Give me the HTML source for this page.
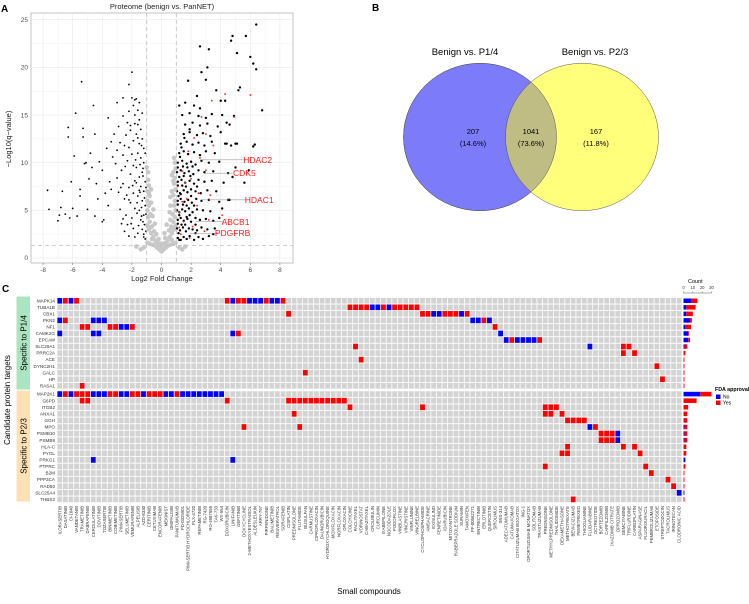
<!DOCTYPE html>
<html><head><meta charset="utf-8"><style>
html,body{margin:0;padding:0;background:#fff;}
svg{display:block;font-family:"Liberation Sans",Arial,sans-serif;}
</style></head><body>
<svg id="fig" width="749" height="604" viewBox="0 0 749 604" xmlns="http://www.w3.org/2000/svg">
<text x="1" y="12" font-size="10" font-weight="bold">A</text>
<text x="372" y="11" font-size="10" font-weight="bold">B</text>
<text x="2" y="292" font-size="10" font-weight="bold">C</text>
<g id="volcano"></g>
<g id="venn"></g>
<g id="heat"></g>
</svg>
<script>
// ---------- Panel A data ----------
const xTicks=[-8,-6,-4,-2,0,2,4,6,8];
const yTicks=[0,5,10,15,20,25];
const grayPts=[0,0.7,-0.15,0.9,0.15,0.9,-0.3,1.1,0.3,1.1,-0.45,1.3,0.45,1.3,-0.6,1.4,0.6,1.4,-0.8,1.5,0.8,1.5,-0.95,1.6,0.95,1.6,-1.2,1.1,1.2,1.1,-1.4,0.9,1.4,0.9,-1.7,1.2,1.6,1.2,-0.4,1.8,0.4,1.8,-0.55,2.2,0.55,2.2,-0.7,2.6,0.7,2.6,-0.85,3,0.85,3,-0.95,3.4,0.95,3.4,-0.65,3.3,0.65,3.3,-0.8,3.8,0.8,3.8,-0.9,4.3,0.9,4.3,-0.75,4.6,0.75,4.6,-0.95,5,0.95,5,-0.85,5.5,0.85,5.5,-0.95,6,0.9,6,-0.8,6.5,0.8,6.6,-0.95,7,0.95,7.2,-0.85,7.6,0.85,7.8,-0.9,8.2,0.9,8.4,0.8,9,0.95,9.4,0.9,10,0.7,8.7,-0.7,5.8,-0.6,4.4,0.6,4,-0.5,2.8,0.5,2.9,-0.3,1.6,0.3,1.6,0,1.2,-0.1,1.5,0.1,1.5,-0.2,2,0.25,2.1,-0.9,9,-1,9.5,0.6,5.5,0.7,7,-0.7,7.2,-0.65,2,0.7,1.9,0.2,2.6,-0.35,2.5,0.35,3.5,-0.45,3.6,0.6,6.4,0.85,10.5,-0.55,5.1,0.55,4.8,-0.75,3.2,0.75,3.1,-0.85,6.8,0.8,8.1];
const downPts=[-1.1,2,-1.2,2.5,-1.3,3,-1.15,3.5,-1.4,4,-1.2,4.5,-1.5,5,-1.1,5.5,-1.3,6,-1.6,6.5,-1.2,7,-1.4,7.5,-1.1,8,-1.5,8.5,-1.3,9,-1.7,9.5,-1.2,10,-1.4,10.5,-1.6,11,-1.2,11.5,-1.5,12,-1.3,12.5,-1.7,13,-1.4,13.5,-1.6,14,-1.5,14.5,-1.8,15,-1.6,15.5,-1.9,16,-1.8,16.6,-2.0,16.8,-1.7,16.7,-2.0,19.5,-2.2,18.2,
-1.8,2.2,-1.9,3.1,-2.0,4.2,-1.8,5.2,-2.1,5.8,-1.9,6.8,-2.2,7.4,-1.8,8.1,-2.1,8.8,-1.9,9.7,-2.3,10.2,-2.0,10.9,-2.2,11.6,-1.9,12.3,-2.4,12.9,-2.1,13.4,-2.3,14.2,-2.6,14.9,-2.2,15.4,
-2.5,2.8,-2.7,3.6,-2.4,4.5,-2.8,5.1,-2.5,6.2,-2.9,6.9,-2.6,7.8,-3.0,8.4,-2.7,9.2,-3.1,9.9,-2.6,10.8,-3.0,11.3,-2.8,12.1,-3.2,13,-2.9,13.8,-3.0,16.3,-2.6,16.8,-3.4,12.2,-3.3,10.6,-3.5,8,-3.6,5.5,-3.9,4,-3.8,6.8,-4.0,9.2,-3.6,14.7,-4.2,10.1,-4.3,6.2,-4.6,16,-4.5,13,-4.8,11,-4.9,8.3,-5.0,5.1,-5.2,9.9,-5.3,12.7,-5.4,18.5,-5.3,13.6,-5.5,7.2,-5.8,15.2,-5.9,10.7,-6.0,5.2,-6.1,8,-6.3,13.7,-6.3,12.7,-6.5,4.6,-6.8,5.3,-7.0,3.9,-7.6,5.1,-7.7,7.1,-6.7,7,-5.7,4.4,-4.5,4.4,-4.0,3.8,-5.5,6.5,-6.2,4.2,-6.9,4.5,-5.1,10,-4.7,9.5,-3.7,11.5,-3.4,7.2,-4.4,7.8,
-1.05,2.8,-1.25,3.8,-1.05,4.6,-1.35,5.3,-1.15,6.3,-1.45,6.9,-1.05,7.4,-1.25,8.6,-1.45,9.8,-1.1,11,-1.35,11.8,-1.55,3.4,-1.65,4.7,-1.7,7.9,-1.75,10.3,-1.6,2.6,-2.3,3.5,-2.35,6.6,-2.45,9.6,-2.5,11.8,-2.2,2.3,-1.95,7.6,-1.3,15.2,-1.5,16.3,-1.65,5.8,-2.1,13.9,-1.2,2.2,-1.35,4.4,-1.5,7.1,-1.25,9.4,-1.6,12.6,-1.8,14.1,-2.05,3.6,-2.2,6.1,-2.6,4.1,-2.75,7.4];
const upPts=[1.1,2.1,1.3,1.9,1.5,2.2,1.7,2,1.9,2.3,2.2,1.9,2.5,2.2,2.8,2,3.2,2.3,
1.05,3.1,1.25,2.9,1.45,3.2,1.65,2.8,1.85,3.1,2.1,3,2.4,2.9,2.7,3.2,3.1,3,3.6,3.1,
1.1,4,1.3,4.2,1.5,3.9,1.75,4.1,2.0,3.8,2.3,4.2,2.6,4,3.0,4.1,3.5,3.9,
1.05,5,1.2,4.8,1.4,5.1,1.6,4.9,1.85,5.2,2.1,4.8,2.4,5.1,2.8,5,3.3,4.9,4.1,5.2,
1.1,6,1.3,6.2,1.55,5.9,1.8,6.1,2.05,5.8,2.35,6.2,2.7,6,3.2,6.1,3.9,5.9,
1.05,7,1.25,6.8,1.5,7.1,1.75,6.9,2.0,7.2,2.3,7,2.65,6.8,3.1,7.1,3.7,7,4.6,6.1,
1.1,8,1.35,8.2,1.6,7.9,1.9,8.1,2.2,7.8,2.5,8.2,2.9,8,3.4,8.1,4.2,7.9,
1.05,9,1.3,9.2,1.55,8.9,1.85,9.1,2.15,8.8,2.5,9.2,2.9,9,3.5,9.1,4.5,8.9,
1.1,10,1.4,10.2,1.7,9.9,2.0,10.1,2.3,9.8,2.7,10.2,3.2,10,3.9,10.1,
1.2,11,1.5,11.2,1.8,10.9,2.2,11.1,2.6,10.8,3.0,11.2,3.6,11,4.7,11.8,6.3,11.9,
1.3,12,1.7,12.2,2.1,11.9,2.5,12.1,2.9,11.8,3.4,12.2,4.3,12,5.1,12,
1.5,13,1.9,13.2,2.4,12.9,2.8,13.1,3.3,12.8,4.0,13.2,
1.6,14,2.1,14.2,2.6,13.9,3.1,14.1,3.8,13.8,4.4,14.2,
1.4,15,1.9,15.2,2.5,14.9,3.4,15.1,4.1,15,4.9,14.9,
1.2,16,1.8,18.6,2.4,17,2.6,22.2,2.7,19.5,3.2,21.9,3.1,20,3.0,18.7,3.7,17.6,4.0,16.5,4.3,16.5,4.7,22.8,4.8,23.3,5.1,21.5,5.7,23.3,6.0,21.1,6.2,20.4,6.4,19.8,6.4,24.5,5.2,17.6,5.3,17.9,6.8,15.5,6.2,11.7,5.6,7.9,5.9,9.2,5.0,9.5,4.8,8.5,4.5,6.1,3.9,4.2,3.5,2.5,4.4,12,5.0,12,4.6,14,3.0,14.7,2.2,16,2.6,15.7,1.6,16.3,1.9,13.5,2.1,9.6,
1.15,2.6,1.35,3.5,1.2,4.5,1.45,5.6,1.15,6.5,1.4,7.6,1.2,8.5,1.45,9.6,1.25,10.6,1.6,3.5,1.7,5.5,1.65,7.5,1.75,9.5,1.9,4.5,2.0,6.5,1.95,8.6,2.3,3.5,2.2,5.5,2.4,7.5,2.3,2.6,1.1,3.6,1.1,5.6,1.1,7.6,1.1,9.5,1.35,11.6,1.55,12.6,1.7,4.3,1.3,6.7,1.5,8.6,1.2,1.9];
const redPts=[1.3,2.5,1.5,3.8,1.2,4.8,1.7,6.2,1.1,7.5,2.0,8.3,1.4,9.1,2.6,10.5,1.8,11.2,2.2,12.6,3.0,13,2.7,14.8,3.4,16.5,4.3,17.2,6.0,17.1,4.9,14.8,3.5,11.8,3.0,9.2,2.4,5.5,3.2,4.0,2.9,2.8,1.9,2.1,3.7,2.6,4.1,4.5,1.6,7.9,2.5,6.8,1.2,3.2,1.4,5.9,3.3,6.6,2.1,3.3];
const geneLabels=["HDAC2","CDK5","HDAC1","ABCB1","PDGFRB"];
const geneLabelFC=[6.5,5.6,6.6,5.0,4.8];
const geneLabelQ=[10.3,8.9,6.1,3.8,2.6];
const genePtFC=[2.6,2.9,2.7,2.3,1.9];

// ---------- Panel B data ----------
const vennSets=["Benign vs. P1/4","Benign vs. P2/3"];
const vennCounts=[207,1041,167];
const vennPct=["(14.6%)","(73.6%)","(11.8%)"];

// ---------- Panel C data ----------
const targetsP14=["MAPK14","TUBA1B","CBX1","PKN2","NF1","CAMK2G","EPCAM","SLC29A1","PRRC2A","ACE","DYNC2H1","GALC","HP","RASA1"];
const targetsP23=["MAP2K1","G6PD","ITGB2","ANXA1","GGH","MPO","PSMB10","PSMB9","HLA-C","PYGL","PRKG1","PTPRC","B2M","PPP3CA","RAD50","SLC25A4","THBS2"];
const compounds=["ILORASERTIB","DASATINIB","CI-1040","VANDETANIB","TRAMETINIB","DABRAFENIB","CERDULATINIB","DOVITINIB","TOZASERTIB","BINIMETINIB","COBIMETINIB","PIMASERTIB","SELUMETINIB","VEMURAFENIB","ALPELISIB","AZD-8330","CERITINIB","CETUXIMAB","ENCORAFENIB","MEKINIST","OMIPALISIB","PANITUMUMAB","PD-0325901","PIMASERTIB HYDROCHLORIDE","PLX-4720","REFAMETINIB","RG-7420","RO-4987655","TAK-733","WX-554","DOXORUBICIN","LINIFANIB","GEFITINIB","DOXYCYCLINE","2-METHOXYESTRADIOL","ALDESLEUKIN","ARRY-797","PIRFENIDONE","BALIMETINIB","RESVERATROL","SORAFENIB","CISPLATIN","PREDNISOLONE","FLUTAMIDE","BUSULFAN","CARMUSTINE","CIPROFLOXACIN","DAUNORUBICIN","HYDROXYCHLOROQUINE","MOXIFLOXACIN","NORFLOXACIN","OFLOXACIN","COLCHICINE","PACLITAXEL","VORINOSTAT","CABAZITAXEL","CROLIBULIN","CURCUMIN","IXABEPILONE","NOCODAZOLE","PODOFILOX","VINBLASTINE","VINCRISTINE","VINFLUNINE","VINORELBINE","CYCLOPHOSPHAMIDE","AMSACRINE","EXISULIND","FENRETINIDE","IDARUBICIN","MITOXANTRONE","RABEPRAZOLE SODIUM","SURAMIN","TAMOXIFEN","PF-00562271","ENTRECTINIB","ERLOTINIB","QUERCETIN","SIROLIMUS","SNS-314","ADECATUMUMAB","CATUMAXOMAB","CITATUZUMAB BOGATOX","ING-1","OPORTUZUMAB MONATOX","SOLITOMAB","TRASTUZUMAB","PREDNISONE","METHYLPREDNISOLONE","THALIDOMIDE","DEXAMETHASONE","METHOTREXATE","BEVACIZUMAB","PEMETREXED","THIOGUANINE","FLUDARABINE","OCTREOTIDE","BORTEZOMIB","CARFILZOMIB","IXAZOMIB CITRATE","OPROZOMIB","GEMCITABINE","TRIFLURIDINE","CARBOPLATIN","ASPARAGINASE","FLUOROURACIL","PEMBROLIZUMAB","ETOPOSIDE","STREPTOZOCIN","TACROLIMUS","IRINOTECAN","CLODRONIC ACID"];
const rowCols=[
[0,1,2,3,30,31,32,33,34,35,36,37,38,39,40],
[52,53,54,55,56,57,58,59,60,61,62,63,64],
[41,65,66,67,68,69,70,71,72,73],
[0,1,6,7,8,74,75,76,77],
[4,5,9,10,11,12,13,78],
[0,6,7,31,32,79],
[80,81,82,83,84,85,86],
[53,95,101,102],
[101,103],[54],[107],[44],[108],[4],
[0,1,2,3,4,5,6,7,8,9,10,11,12,13,14,15,16,17,18,19,20,21,22,23,24,25,26,27,28,29],
[4,5,30,41,42,43,44,45,46,47,48,49,50,51],
[52,65,87,88,89],
[42,87,88,90],
[91,92,93,94],
[33,43,95,96],
[97,98,99,100],
[97,98,99,100],
[91,101,103],
[90,91,104],
[6,31],
[87,105],[106],[109],[110],[111],[92]];
const rowFDA=[
[0,1,0,1,1,0,1,1,0,0,0,1,0,0,1],
[1,1,1,1,0,0,1,0,1,1,1,1,1],
[1,1,1,0,0,1,1,1,0,1],
[0,1,0,0,0,0,0,1,0],
[1,1,1,1,0,0,1,1],
[0,0,0,0,1,0],
[0,1,0,0,0,0,1],
[1,0,1,1],
[1,1],[1],[1],[1],[1],[1],
[0,1,0,1,1,1,0,0,0,1,1,0,0,1,1,0,1,1,1,0,0,1,0,0,0,0,0,0,0,0],
[1,1,1,1,1,1,1,1,1,1,1,1,1,1],
[1,1,1,1,1],
[1,1,1,1],
[1,1,1,1],
[1,1,0,1],
[1,1,1,0],
[1,1,1,0],
[1,1,1],
[1,1,1],
[0,0],
[1,1],[1],[1],[1],[0],[1]];
const countTicks=[0,10,20,30];
const legendLabels=["No","Yes"];

const NS="http://www.w3.org/2000/svg";
function mk(parent,tag,attrs,text){const e=document.createElementNS(NS,tag);for(const k in attrs)e.setAttribute(k,attrs[k]);if(text!==undefined)e.textContent=text;parent.appendChild(e);return e;}

// ---------- Volcano ----------
(function(){
const g=document.getElementById('volcano');
const X=v=>161.5+14.8*v, Y=v=>258-9.53*v;
const px0=31,px1=293,py0=13,py1=263;
let e=mk(g,'rect',{x:px0,y:py0,width:px1-px0,height:py1-py0,fill:'#fff',stroke:'#b5b5b5','stroke-width':0.8});

for(let v=-9;v<=9;v+=1){const x=X(v);if(x<px0||x>px1)continue;e=mk(g,'line',{x1:x,x2:x,y1:py0,y2:py1,stroke:v%2===0?'#e6e6e6':'#f2f2f2','stroke-width':0.5});}
for(let v=0;v<=27.5;v+=2.5){const y=Y(v);if(y<py0)continue;e=mk(g,'line',{x1:px0,x2:px1,y1:y,y2:y,stroke:(v%5===0)?'#e6e6e6':'#f2f2f2','stroke-width':0.5});}
xTicks.forEach(t=>{e=mk(g,'text',{x:X(t),y:py1+9,'font-size':6.5,'text-anchor':'middle',fill:'#4d4d4d'},String(t));
mk(g,'line',{x1:X(t),x2:X(t),y1:py1,y2:py1+2,stroke:'#555','stroke-width':0.5});});
yTicks.forEach(t=>{e=mk(g,'text',{x:px0-3,y:Y(t)+2.2,'font-size':6.5,'text-anchor':'end',fill:'#4d4d4d'},String(t));});
for(let i=0;i<grayPts.length;i+=2){e=mk(g,'circle',{cx:X(grayPts[i]),cy:Y(grayPts[i+1]),r:2.3,fill:'#c8c8c8'});}
for(let i=0;i<downPts.length;i+=2){e=mk(g,'circle',{cx:X(downPts[i]),cy:Y(downPts[i+1]),r:0.9,fill:'#000'});}
for(let i=0;i<upPts.length;i+=2){e=mk(g,'circle',{cx:X(upPts[i]),cy:Y(upPts[i+1]),r:1.2,fill:'#000'});}
for(let i=0;i<redPts.length;i+=2){e=mk(g,'circle',{cx:X(redPts[i]),cy:Y(redPts[i+1]),r:0.9,fill:'#ff2020'});}
[[X(-1),X(-1),py0,py1],[X(1),X(1),py0,py1],[px0,px1,Y(1.3),Y(1.3)]].forEach(a=>{e=mk(g,'line',{x1:a[0],x2:a[1],y1:a[2],y2:a[3],stroke:'#bdbdbd','stroke-width':0.8,'stroke-dasharray':'4,3'});});
geneLabels.forEach((lab,i)=>{
 e=mk(g,'line',{x1:X(genePtFC[i]),x2:X(geneLabelFC[i])-12,y1:Y(geneLabelQ[i]),y2:Y(geneLabelQ[i]),stroke:'#888','stroke-width':0.5});
 e=mk(g,'text',{x:X(geneLabelFC[i]),y:Y(geneLabelQ[i])+3,'font-size':8.5,'text-anchor':'middle',fill:'#ff1a1a'},lab);});
e=mk(g,'text',{x:162,y:9,'font-size':7.5,'text-anchor':'middle',fill:'#222'},'Proteome (benign vs. PanNET)');
e=mk(g,'text',{x:162,y:281,'font-size':7.5,'text-anchor':'middle',fill:'#222'},'Log2 Fold Change');
e=mk(g,'text',{x:0,y:0,'font-size':7.5,'text-anchor':'middle',fill:'#222',transform:'translate(11,139) rotate(-90)'},'\u2212Log10(q\u2212value)');
})();

// ---------- Venn ----------
(function(){
const g=document.getElementById('venn');
const L={cx:480,cy:137,rx:76.5,ry:73.7},R={cx:582,cy:137,rx:76.5,ry:73.7};
let e=mk(g,'ellipse',{cx:L.cx,cy:L.cy,rx:L.rx,ry:L.ry,fill:'#7c7cfb',stroke:'#555','stroke-width':0.5});
e=mk(g,'ellipse',{cx:R.cx,cy:R.cy,rx:R.rx,ry:R.ry,fill:'#ffff7c',stroke:'#555','stroke-width':0.5});
const defs=mk(g,'defs',{});const cp=mk(defs,'clipPath',{id:'clipL'});mk(cp,'ellipse',{cx:L.cx,cy:L.cy,rx:L.rx,ry:L.ry});
e=mk(g,'ellipse',{cx:R.cx,cy:R.cy,rx:R.rx,ry:R.ry,fill:'#bfbd84',stroke:'#555','stroke-width':0.5,'clip-path':'url(#clipL)'});
e=mk(g,'ellipse',{cx:L.cx,cy:L.cy,rx:L.rx,ry:L.ry,fill:'none',stroke:'#555','stroke-width':0.5});
e=mk(g,'text',{x:465,y:55,'font-size':9.5,'text-anchor':'middle'},vennSets[0]);
e=mk(g,'text',{x:595,y:55,'font-size':9.5,'text-anchor':'middle'},vennSets[1]);
const cx=[473,531,596];
vennCounts.forEach((c,i)=>{e=mk(g,'text',{x:cx[i],y:134,'font-size':7.5,'text-anchor':'middle'},String(c));
e=mk(g,'text',{x:cx[i],y:146,'font-size':7.5,'text-anchor':'middle'},vennPct[i]);});
})();

// ---------- Heatmap ----------
(function(){
const g=document.getElementById('heat');
const x0=57,pw=5.58;
const rows=targetsP14.concat(targetsP23);
const rowTop=r=> r<14 ? 297.5+6.54*r : 390.8+6.58*(r-14);
const rh=r=> r<14?6.54:6.58;
const colX=c=>x0+pw*c;
let e;
e=mk(g,'rect',{x:16.5,y:296.5,width:13.5,height:93,fill:'#abe5bf'});
e=mk(g,'rect',{x:16.5,y:390.5,width:13.5,height:111,fill:'#fde0b3'});
e=mk(g,'text',{x:0,y:0,'font-size':8,'text-anchor':'middle',transform:'translate(26.5,343) rotate(-90)'},'Specific to P1/4');
e=mk(g,'text',{x:0,y:0,'font-size':8,'text-anchor':'middle',transform:'translate(26.5,446) rotate(-90)'},'Specific to P2/3');
e=mk(g,'text',{x:0,y:0,'font-size':8,'text-anchor':'middle',transform:'translate(10,400) rotate(-90)'},'Candidate protein targets');
rows.forEach((name,r)=>{
 e=mk(g,'text',{x:55,y:rowTop(r)+rh(r)/2+1.6,'font-size':4.6,'text-anchor':'end',fill:'#333'},name);
 for(let c=0;c<compounds.length;c++){e=mk(g,'rect',{x:colX(c)+0.4,y:rowTop(r)+0.45,width:pw-0.8,height:rh(r)-0.9,fill:'#d3d3d3'});}
});
rowCols.forEach((cols,r)=>{cols.forEach((c,k)=>{
 e=mk(g,'rect',{x:colX(c)+0.4,y:rowTop(r)+0.45,width:pw-0.8,height:rh(r)-0.9,fill:rowFDA[r][k]?'#ff0000':'#0000ff'});
 
 });});
compounds.forEach((name,c)=>{const cx=colX(c)+pw/2+1.5;
 e=mk(g,'text',{x:0,y:0,'font-size':4.3,'text-anchor':'end',fill:'#333',transform:'translate('+cx+',506) rotate(-90)'},name);});
e=mk(g,'text',{x:369,y:594,'font-size':8,'text-anchor':'middle'},'Small compounds');
const bx0=683.5,bu=0.933;
countTicks.forEach(t=>{e=mk(g,'text',{x:bx0+bu*t,y:289,'font-size':4.2,'text-anchor':'middle',fill:'#333'},String(t));
 mk(g,'line',{x1:bx0+bu*t,x2:bx0+bu*t,y1:291.5,y2:293,stroke:'#333','stroke-width':0.4});});
mk(g,'line',{x1:bx0,x2:bx0+bu*30,y1:293,y2:293,stroke:'#333','stroke-width':0.4});
e=mk(g,'text',{x:688,y:283,'font-size':5.5},'Count');
rowCols.forEach((cols,r)=>{
 const no=rowFDA[r].filter(v=>v===0).length, yes=rowFDA[r].length-no;
 const y=rowTop(r)+1.0,h=rh(r)-2.0;
 e=mk(g,'rect',{x:bx0,y:y,width:bu*no,height:h,fill:'#0000ff'});
 e=mk(g,'rect',{x:bx0+bu*no,y:y,width:bu*yes,height:h,fill:'#ff0000'});
});
e=mk(g,'text',{x:715,y:391,'font-size':5.3,'font-weight':'bold'},'FDA approval');
legendLabels.forEach((l,i)=>{
 e=mk(g,'rect',{x:716,y:394.5+i*6,width:4.5,height:4.5,fill:i?'#ff0000':'#0000ff'});
 e=mk(g,'text',{x:723,y:398.6+i*6,'font-size':5},l);});
})();
</script>
</body></html>
